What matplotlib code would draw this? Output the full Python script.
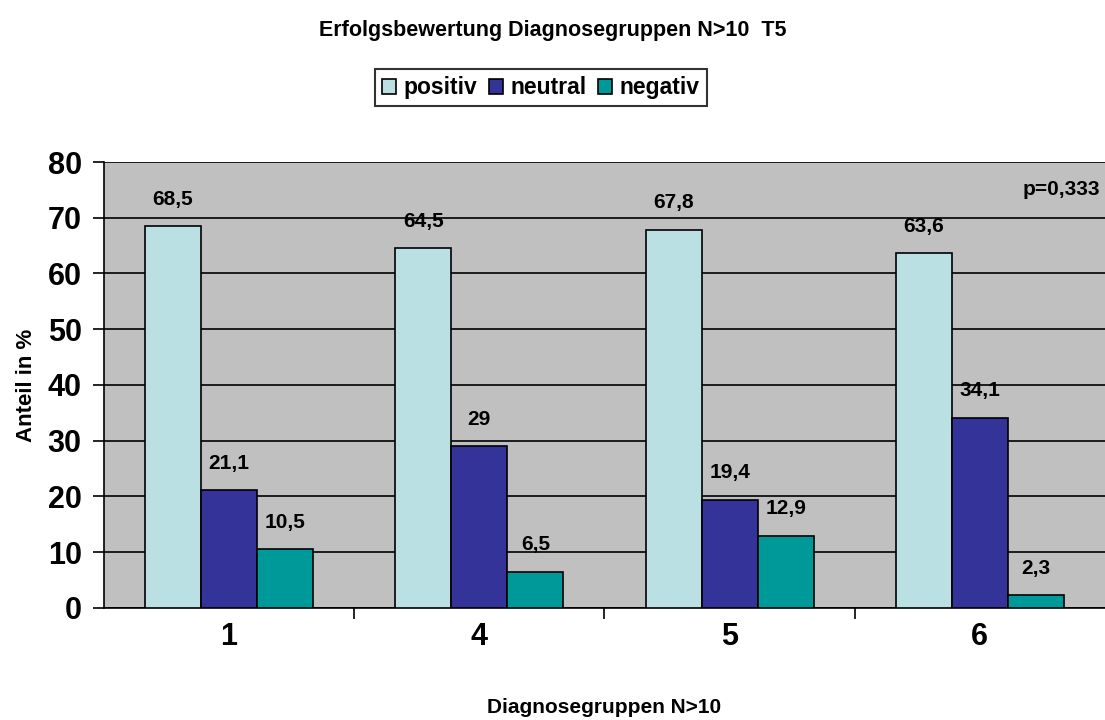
import matplotlib.pyplot as plt
import numpy as np

plt.rcParams['font.family'] = ['Liberation Sans', 'DejaVu Sans']
plt.rcParams['font.weight'] = 'bold'

groups = ["1", "4", "5", "6"]
positiv = [68.5, 64.5, 67.8, 63.6]
neutral = [21.1, 29, 19.4, 34.1]
negativ = [10.5, 6.5, 12.9, 2.3]
labels = ["positiv", "neutral", "negativ"]
colors = ["#BBE0E3", "#333399", "#009999"]


def fmt(v):
    return ("%g" % v).replace(".", ",")


fig = plt.figure(figsize=(11.05, 7.2), dpi=100)
ax = fig.add_axes([0.0941, 0.1556, 0.9059, 0.6194])
ax.set_facecolor("#C0C0C0")

x = np.arange(len(groups))
w = 0.224
series = [positiv, neutral, negativ]
handles = []
for i, (vals, c, lab) in enumerate(zip(series, colors, labels)):
    bars = ax.bar(x + (i - 1) * w, vals, w, color=c, edgecolor="black",
                  linewidth=1.2, label=lab, zorder=3)
    handles.append(bars)
    for xi, v in zip(x + (i - 1) * w, vals):
        ax.annotate(fmt(v), (xi, v), xytext=(0, 19.5), textcoords="offset points",
                    ha="center", va="center", fontsize=15, fontweight="bold")

ax.set_xlim(-0.5, len(groups) - 0.5)
ax.set_ylim(0, 80)
ax.set_yticks(range(0, 81, 10))
ax.yaxis.grid(True, color="black", linewidth=1.2, zorder=0)
ax.set_axisbelow(True)
ax.tick_params(axis="y", labelsize=22, length=8, width=1.2, direction="out", pad=8)
ax.set_xticks(x)
ax.set_xticklabels(groups, fontsize=22, fontweight="bold")
ax.set_xticks(np.arange(0.5, len(groups) - 0.5, 1), minor=True)
ax.tick_params(axis="x", which="major", length=0, pad=10)
ax.tick_params(axis="x", which="minor", length=8, width=1.2)
for s in ["top", "right"]:
    ax.spines[s].set_visible(False)
for s in ["left", "bottom"]:
    ax.spines[s].set_linewidth(1.2)

ax.set_ylabel("Anteil in %", fontsize=16, fontweight="bold", labelpad=8)
ax.set_xlabel("Diagnosegruppen N>10", fontsize=15, fontweight="bold", labelpad=33)
ax.text(0.995, 75, "p=0,333", transform=ax.get_yaxis_transform(),
        ha="right", va="center", fontsize=15, fontweight="bold")

fig.text(0.5, 0.958, "Erfolgsbewertung Diagnosegruppen N>10  T5",
         ha="center", va="center", fontsize=15.5, fontweight="bold")
leg = fig.legend(handles=handles, loc="center", bbox_to_anchor=(0.4895, 0.878),
                 ncol=3, frameon=True, fancybox=False, edgecolor="black",
                 fontsize=16.5, handlelength=0.6, handleheight=0.6,
                 handletextpad=0.35, columnspacing=0.5, borderpad=0.3)
leg.get_frame().set_linewidth(1.5)
for t in leg.get_texts():
    t.set_fontweight("bold")

fig.savefig("out.png", dpi=100)
